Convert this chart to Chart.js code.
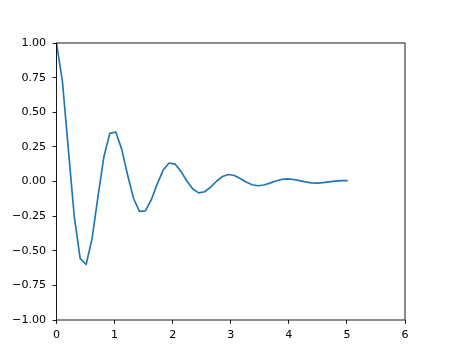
<!DOCTYPE html>
<html>
<head>
<meta charset="utf-8">
<script src="https://cdn.jsdelivr.net/npm/chart.js@4/dist/chart.umd.min.js"></script>
<style>
html,body{margin:0;padding:0;background:#fff;}
#wrap{width:450px;height:360px;}
</style>
</head>
<body>
<div id="wrap"><canvas id="c" width="450" height="360"></canvas></div>
<script>
// sample positions (x): 50 evenly spaced points from 0 to 5
const xValues = [0.0000,0.1020,0.2041,0.3061,0.4082,0.5102,0.6122,0.7143,0.8163,0.9184,
  1.0204,1.1224,1.2245,1.3265,1.4286,1.5306,1.6327,1.7347,1.8367,1.9388,
  2.0408,2.1429,2.2449,2.3469,2.4490,2.5510,2.6531,2.7551,2.8571,2.9592,
  3.0612,3.1633,3.2653,3.3673,3.4694,3.5714,3.6735,3.7755,3.8776,3.9796,
  4.0816,4.1837,4.2857,4.3878,4.4898,4.5918,4.6939,4.7959,4.8980,5.0000];
const yValues = [1.0000,0.7236,0.2319,-0.2543,-0.5572,-0.5991,-0.4128,-0.1090,0.1790,0.3478,
  0.3575,0.2338,0.0469,-0.1228,-0.2159,-0.2124,-0.1313,-0.0169,0.0827,0.1334,
  0.1257,0.0731,0.0034,-0.0547,-0.0820,-0.0740,-0.0403,0.0020,0.0358,0.0502,
  0.0434,0.0219,-0.0037,-0.0232,-0.0306,-0.0253,-0.0117,0.0037,0.0149,0.0185,
  0.0147,0.0062,-0.0031,-0.0095,-0.0112,-0.0085,-0.0032,0.0023,0.0060,0.0067];
const xTicks = [0,1,2,3,4,5,6];
const yTicks = [-1.00,-0.75,-0.50,-0.25,0.00,0.25,0.50,0.75,1.00];

const points = xValues.map((x,i)=>({x:x,y:yValues[i]}));
const font = {family:'"DejaVu Sans", sans-serif', size:11.1};

const frame = {
  id:'frame',
  afterDatasetsDraw(chart){
    const a = chart.chartArea, ctx = chart.ctx;
    ctx.save();
    ctx.strokeStyle = '#000';
    ctx.lineWidth = 0.9;
    ctx.strokeRect(a.left, a.top, a.right-a.left, a.bottom-a.top);
    ctx.restore();
  }
};

new Chart(document.getElementById('c'), {
  type:'line',
  data:{datasets:[{
    data:points,
    borderColor:'#1f77b4',
    borderWidth:1.67,
    pointRadius:0,
    tension:0,
    fill:false,
    borderJoinStyle:'round',
    borderCapStyle:'square'
  }]},
  options:{
    responsive:false,
    animation:false,
    devicePixelRatio:1,
    layout:{padding:{left:0,top:43,right:45,bottom:0}},
    plugins:{legend:{display:false},tooltip:{enabled:false}},
    scales:{
      x:{
        type:'linear', min:0, max:6,
        afterBuildTicks(s){ s.ticks = xTicks.map(v=>({value:v})); },
        afterFit(s){ s.height = 40; },
        grid:{display:true, drawOnChartArea:false, drawTicks:true, tickLength:3.9, tickColor:'#000', tickWidth:0.9},
        border:{display:false},
        ticks:{color:'#000', font:font, padding:4.5, maxRotation:0, autoSkip:false,
          callback:(v)=>String(v)}
      },
      y:{
        type:'linear', min:-1, max:1,
        afterBuildTicks(s){ s.ticks = yTicks.map(v=>({value:v})); },
        afterFit(s){ s.width = 56.5; },
        grid:{display:true, drawOnChartArea:false, drawTicks:true, tickLength:3.9, tickColor:'#000', tickWidth:0.9},
        border:{display:false},
        ticks:{color:'#000', font:font, padding:6.5, autoSkip:false,
          callback:(v)=>Number(v).toFixed(2).replace('-','\u2212')}
      }
    }
  },
  plugins:[frame]
});
</script>
</body>
</html>
